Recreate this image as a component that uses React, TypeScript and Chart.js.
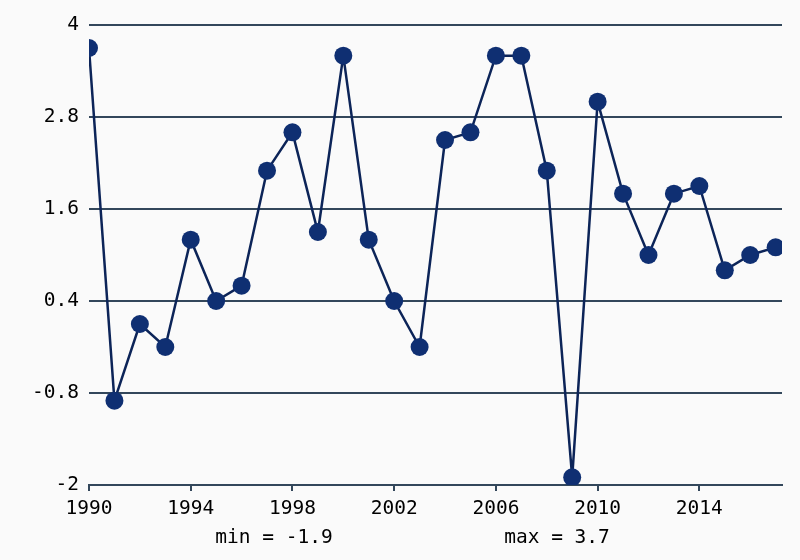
import React, { useEffect, useRef } from "react";
import { Chart, registerables } from "chart.js";

Chart.register(...registerables);

const years = [1990, 1991, 1992, 1993, 1994, 1995, 1996, 1997, 1998, 1999, 2000, 2001, 2002, 2003, 2004, 2005, 2006, 2007, 2008, 2009, 2010, 2011, 2012, 2013, 2014, 2015, 2016, 2017];
const values = [3.7, -0.9, 0.1, -0.2, 1.2, 0.4, 0.6, 2.1, 2.6, 1.3, 3.6, 1.2, 0.4, -0.2, 2.5, 2.6, 3.6, 3.6, 2.1, -1.9, 3.0, 1.8, 1.0, 1.8, 1.9, 0.8, 1.0, 1.1];
const xTickLabels = [1990, 1994, 1998, 2002, 2006, 2010, 2014];
const yTickLabels = [-2, -0.8, 0.4, 1.6, 2.8, 4];
const minLabel = "min = -1.9";
const maxLabel = "max = 3.7";

const FONT = "'DejaVu Sans Mono', monospace";
const FS = 19.5;

export default function App() {
  const ref = useRef<HTMLCanvasElement | null>(null);
  useEffect(() => {
    const canvas = ref.current;
    if (!canvas) return;
    const footer = {
      id: "footer",
      afterDraw(chart: any) {
        const ctx = chart.ctx;
        ctx.save();
        ctx.fillStyle = "#000";
        ctx.font = `${FS}px ${FONT}`;
        ctx.textAlign = "center";
        ctx.textBaseline = "middle";
        ctx.fillText(minLabel, 274, 538);
        ctx.fillText(maxLabel, 557, 538);
        ctx.restore();
      },
    };
    const bg = {
      id: "bg",
      beforeDraw(chart: any) {
        const ctx = chart.ctx;
        ctx.save();
        ctx.fillStyle = "#fafafa";
        ctx.fillRect(0, 0, chart.width, chart.height);
        ctx.restore();
      },
    };
    const chart = new Chart(canvas, {
      type: "line",
      data: {
        datasets: [
          {
            data: years.map((y, i) => ({ x: y, y: values[i] })),
            borderColor: "#0c2458",
            backgroundColor: "#0c2458",
            borderWidth: 2.5,
            pointRadius: 9,
            pointHoverRadius: 9,
            pointBackgroundColor: "#0f2f72",
            pointBorderColor: "#0f2f72",
            pointBorderWidth: 0,
            tension: 0,
          },
        ],
      },
      options: {
        animation: false,
        responsive: false,
        maintainAspectRatio: false,
        layout: { padding: { left: 0, right: 18, top: 25, bottom: 0 } },
        plugins: { legend: { display: false }, tooltip: { enabled: false } },
        scales: {
          x: {
            type: "linear",
            min: 1990,
            max: 2017.25,
            afterBuildTicks: (s: any) => {
              s.ticks = xTickLabels.map((v) => ({ value: v }));
            },
            afterFit: (s: any) => {
              s.height = 75;
            },
            grid: { drawOnChartArea: false, color: "#33475b", tickLength: 6, lineWidth: 2 },
            border: { display: true, color: "#33475b", width: 2 },
            ticks: {
              color: "#000",
              font: { family: FONT, size: FS },
              padding: 6,
              maxRotation: 0,
              autoSkip: false,
              callback: (v: any) => String(v),
            },
          },
          y: {
            type: "linear",
            min: -2,
            max: 4,
            afterBuildTicks: (s: any) => {
              s.ticks = yTickLabels.map((v) => ({ value: v }));
            },
            afterFit: (s: any) => {
              s.width = 89;
            },
            grid: { color: "#33475b", lineWidth: 2, tickLength: 0 },
            border: { display: false },
            ticks: {
              color: "#000",
              font: { family: FONT, size: FS },
              padding: 10,
              autoSkip: false,
              callback: (v: any) => String(v),
            },
          },
        },
      },
      plugins: [bg, footer],
    });
    return () => chart.destroy();
  }, []);
  return (
    <div style={{ position: "fixed", left: 0, top: 0, width: 800, height: 560 }}>
      <canvas ref={ref} width={800} height={560} style={{ width: 800, height: 560, display: "block" }} />
    </div>
  );
}
